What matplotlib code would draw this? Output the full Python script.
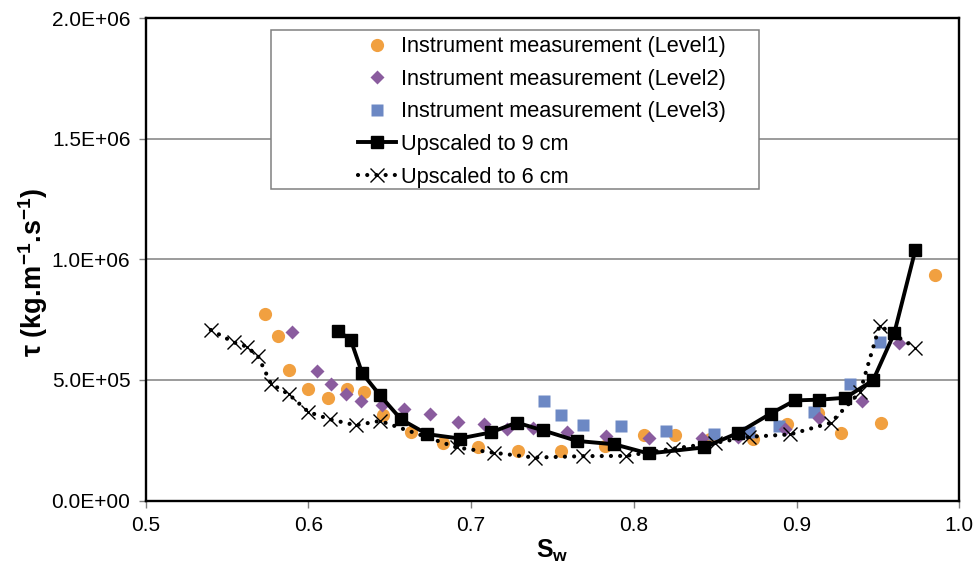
import numpy as np
import matplotlib
matplotlib.use("Agg")
import matplotlib.pyplot as plt
from matplotlib.patches import Rectangle
from matplotlib.ticker import FuncFormatter

plt.rcParams['font.family'] = ['Liberation Sans', 'DejaVu Sans']
plt.rcParams['mathtext.fontset'] = 'custom'
plt.rcParams['mathtext.rm'] = 'Liberation Sans'
plt.rcParams['mathtext.bf'] = 'Liberation Sans:bold'

# Instrument measurements
sw_l1 = [0.573, 0.581, 0.588, 0.600, 0.612, 0.624, 0.634, 0.646, 0.663, 0.683,
         0.704, 0.729, 0.755, 0.782, 0.806, 0.825, 0.847, 0.873, 0.894, 0.913,
         0.927, 0.952, 0.985]
tau_l1 = [773e3, 683e3, 543e3, 461e3, 424e3, 462e3, 450e3, 353e3, 284e3, 240e3,
          220e3, 205e3, 205e3, 226e3, 271e3, 273e3, 254e3, 257e3, 319e3, 363e3,
          278e3, 323e3, 936e3]

sw_l2 = [0.590, 0.605, 0.614, 0.623, 0.632, 0.645, 0.659, 0.675, 0.692, 0.708,
         0.722, 0.738, 0.759, 0.783, 0.809, 0.842, 0.864, 0.893, 0.914, 0.940,
         0.963]
tau_l2 = [698e3, 535e3, 481e3, 443e3, 411e3, 396e3, 378e3, 360e3, 326e3, 319e3,
          295e3, 302e3, 284e3, 267e3, 260e3, 261e3, 264e3, 298e3, 344e3, 411e3,
          654e3]

sw_l3 = [0.745, 0.755, 0.769, 0.792, 0.820, 0.849, 0.871, 0.889, 0.911, 0.933,
         0.951]
tau_l3 = [411e3, 353e3, 312e3, 308e3, 288e3, 274e3, 282e3, 308e3, 367e3, 481e3,
          656e3]

# Upscaled results
sw_9cm = [0.618, 0.626, 0.633, 0.644, 0.657, 0.673, 0.693, 0.712, 0.728, 0.744,
          0.765, 0.788, 0.809, 0.843, 0.864, 0.884, 0.899, 0.914, 0.930, 0.947,
          0.960, 0.973]
tau_9cm = [704e3, 666e3, 528e3, 436e3, 336e3, 275e3, 257e3, 282e3, 323e3, 291e3,
           247e3, 233e3, 195e3, 220e3, 280e3, 360e3, 415e3, 418e3, 426e3, 498e3,
           693e3, 1039e3]

sw_6cm = [0.540, 0.554, 0.562, 0.569, 0.577, 0.588, 0.600, 0.613, 0.629, 0.644,
          0.691, 0.714, 0.739, 0.769, 0.795, 0.824, 0.850, 0.871, 0.896, 0.921,
          0.939, 0.951, 0.973]
tau_6cm = [707e3, 656e3, 638e3, 598e3, 484e3, 440e3, 367e3, 337e3, 312e3, 330e3,
           220e3, 198e3, 178e3, 184e3, 185e3, 215e3, 239e3, 264e3, 274e3, 322e3,
           450e3, 725e3, 633e3]

labels = ['Instrument measurement (Level1)', 'Instrument measurement (Level2)',
          'Instrument measurement (Level3)', 'Upscaled to 9 cm', 'Upscaled to 6 cm']

fig = plt.figure(figsize=(9.76, 5.70), dpi=100)
ax = fig.add_axes([0.1493, 0.1219, 0.8336, 0.8465])

h1, = ax.plot(sw_l1, tau_l1, 'o', color='#F1A040', ms=9.5, mec='none', label=labels[0])
h3, = ax.plot(sw_l3, tau_l3, 's', color='#6C88C4', ms=8, mec='none', label=labels[2])
h2, = ax.plot(sw_l2, tau_l2, 'D', color='#8A5C9E', ms=7.5, mec='none', label=labels[1])
h4, = ax.plot(sw_9cm, tau_9cm, '-s', color='black', lw=2.8, ms=9, label=labels[3])
h5, = ax.plot(sw_6cm, tau_6cm, color='black', lw=3, linestyle=(0, (0.01, 2.2)),
              dash_capstyle='round', marker='x', ms=9.5, mew=1.0, label=labels[4])

ax.set_xlim(0.5, 1.0)
ax.set_ylim(0, 2.0e6)
ax.set_xticks(np.arange(0.5, 1.01, 0.1))
ax.set_yticks(np.arange(0, 2.01e6, 0.5e6))
ax.xaxis.set_major_formatter(FuncFormatter(lambda v, p: f'{v:.1f}'))
ax.yaxis.set_major_formatter(FuncFormatter(lambda v, p: f'{v:.1E}'))
ax.tick_params(labelsize=15, length=5, width=1, color='#808080', pad=6)

ax.yaxis.grid(True, color='#808080', lw=1.1)
ax.set_axisbelow(True)
for s in ax.spines.values():
    s.set_linewidth(1.7)
    s.set_color('black')

ax.set_xlabel(r'S$_\mathbf{w}$', fontsize=18, fontweight='bold', labelpad=2)
ax.set_ylabel(r'τ (kg.m$^{\mathbf{-1}}$.s$^{\mathbf{-1}}$)', fontsize=19.5,
              fontweight='bold')
ax.yaxis.set_label_coords(-0.118, 0.4725)

# legend box drawn separately (content sits right of centre as in the reference)
ax.add_patch(Rectangle((0.1536, 0.6456), 0.6002, 0.3294, transform=ax.transAxes,
                       fill=True, facecolor='white', edgecolor='#808080', lw=1.1,
                       zorder=5))
leg = ax.legend([h1, h2, h3, h4, h5], labels, loc='upper left',
                bbox_to_anchor=(0.261, 0.962), frameon=False, fontsize=15.7,
                handlelength=1.75, handletextpad=0.2, labelspacing=0.53,
                borderpad=0, borderaxespad=0)
leg.set_zorder(6)

fig.savefig('out.png', dpi=100)
